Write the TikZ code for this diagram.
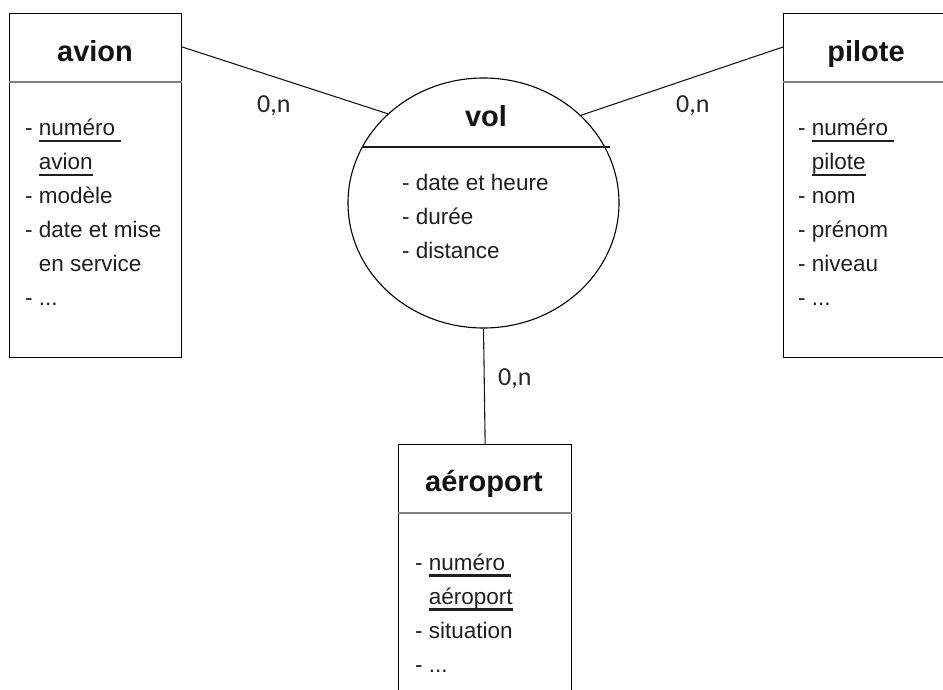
\documentclass[tikz,border=0pt]{standalone}
\usepackage{fontspec}
\setmainfont{Liberation Sans}
\newfontfamily\lblfont{Carlito}
\usetikzlibrary{shapes.geometric}

% underlined key attribute
\newcommand\keyline[1]{\setbox0\hbox{#1}\rlap{\rule[-6.5pt]{\wd0}{2.3pt}}\box0}

\tikzset{
  entity/.style={draw=black, line width=1.3pt, inner sep=0pt, anchor=north west},
  relation/.style={draw=black, ellipse, line width=1.1pt, inner sep=0pt},
  title/.style={font=\bfseries\fontsize{29}{34}\selectfont, anchor=base, inner sep=0pt, text=black!92},
  attrs/.style={font=\fontsize{22.5}{34}\selectfont, anchor=base west, inner sep=0pt, text=black!88},
  card/.style={font=\lblfont\fontsize{26}{30}\selectfont, anchor=base west, inner sep=0pt, text=black!85},
  sep/.style={draw=black!50, line width=1.2pt},
  link/.style={draw=black!90, line width=1.1pt}
}

\begin{document}
\begin{tikzpicture}[x=1pt,y=-1pt]
  \useasboundingbox (0,0) rectangle (943,690);
  \clip (0,0) rectangle (943,690);

  % entities
  \node[entity, minimum width=172pt, minimum height=344pt] (avion) at (9,13) {};
  \node[entity, minimum width=172pt, minimum height=344pt] (pilote) at (783,13) {};
  \node[entity, minimum width=173pt, minimum height=270pt] (aeroport) at (398,444) {};

  \draw[sep] ([yshift=-69pt]avion.north west) -- ([yshift=-69pt]avion.north east);
  \draw[sep] ([yshift=-69pt]pilote.north west) -- ([yshift=-69pt]pilote.north east);
  \draw[sep] ([yshift=-69pt]aeroport.north west) -- ([yshift=-69pt]aeroport.north east);

  \node[title] (avion-t) at (95,62) {avion};
  \node[title] (pilote-t) at (866,62) {pilote};
  \node[title] (aeroport-t) at (484,491) {aéroport};

  \node[attrs] (avion-a) at (25,136) {\begin{tabular}[t]{@{}l@{\ }l@{}}
    - & \keyline{numéro\ }\\
      & \keyline{avion}\\
    - & modèle\\
    - & date et mise\\
      & en service\\
    - & ...
  \end{tabular}};

  \node[attrs] (pilote-a) at (798,136) {\begin{tabular}[t]{@{}l@{\ }l@{}}
    - & \keyline{numéro\ }\\
      & \keyline{pilote}\\
    - & nom\\
    - & prénom\\
    - & niveau\\
    - & ...
  \end{tabular}};

  \node[attrs] (aeroport-a) at (415,570) {\begin{tabular}[t]{@{}l@{\ }l@{}}
    - & \keyline{numéro\ }\\
      & \keyline{aéroport}\\
    - & situation\\
    - & ...
  \end{tabular}};

  % relation
  \node[relation, minimum width=271pt, minimum height=250pt] (vol) at (483.5,203) {};
  \draw[link] (362,147) -- (610,147);
  \node[title] (vol-t) at (486,127) {vol};
  \node[attrs] (vol-a) at (402,190) {\begin{tabular}[t]{@{}l@{\ }l@{}}
    - & date et heure\\
    - & durée\\
    - & distance
  \end{tabular}};

  % connectors
  \draw[link] ([yshift=-34pt]avion.north east) -- (vol.137);
  \draw[link] ([yshift=-34pt]pilote.north west) -- (vol.42.5);
  \draw[link] (vol.south) -- (aeroport.north);

  % cardinalities
  \node[card] (card-avion) at (257,113) {0,n};
  \node[card] (card-pilote) at (676,113) {0,n};
  \node[card] (card-aeroport) at (498,385) {0,n};
\end{tikzpicture}
\end{document}
